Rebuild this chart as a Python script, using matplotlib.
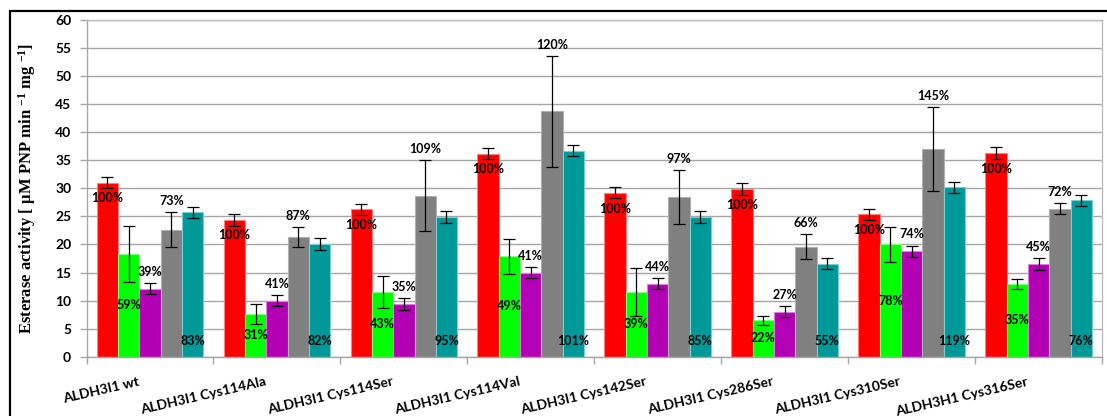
import matplotlib
matplotlib.use("Agg")
import matplotlib.pyplot as plt
import matplotlib.transforms as mtransforms
from matplotlib.patches import Rectangle
import numpy as np

# Mutant names
categories = ["ALDH3I1 wt", "ALDH3I1 Cys114Ala", "ALDH3I1 Cys114Ser", "ALDH3I1 Cys114Val",
              "ALDH3I1 Cys142Ser", "ALDH3I1 Cys286Ser", "ALDH3I1 Cys310Ser", "ALDH3H1 Cys316Ser"]

# Esterase activity for each treatment (µM PNP min-1 mg-1) and its standard deviation
red_vals = [31.0, 24.4, 26.3, 36.2, 29.2, 29.9, 25.4, 36.3]
red_err = [1.0, 1.1, 1.0, 1.0, 1.0, 1.0, 1.0, 1.0]
green_vals = [18.3, 7.6, 11.5, 17.9, 11.5, 6.5, 20.0, 13.0]
green_err = [5.0, 1.75, 2.9, 3.1, 4.3, 0.8, 3.1, 0.85]
magenta_vals = [12.1, 10.0, 9.4, 15.0, 13.0, 8.0, 18.8, 16.5]
magenta_err = [1.0, 1.0, 1.0, 1.0, 1.0, 1.0, 1.0, 1.0]
gray_vals = [22.6, 21.3, 28.7, 43.7, 28.4, 19.6, 37.0, 26.4]
gray_err = [3.1, 1.8, 6.3, 9.9, 4.8, 2.2, 7.5, 1.0]
teal_vals = [25.7, 20.1, 24.9, 36.7, 24.9, 16.6, 30.2, 27.9]
teal_err = [1.0, 1.0, 1.0, 1.0, 1.0, 1.0, 1.0, 1.0]

# Activity relative to the untreated enzyme
red_pct = ["100%"] * 8
green_pct = ["59%", "31%", "43%", "49%", "39%", "22%", "78%", "35%"]
magenta_pct = ["39%", "41%", "35%", "41%", "44%", "27%", "74%", "45%"]
gray_pct = ["73%", "87%", "109%", "120%", "97%", "66%", "145%", "72%"]
teal_pct = ["83%", "82%", "95%", "101%", "85%", "55%", "119%", "76%"]

colors = ["#FF0000", "#00FF00", "#B400B4", "#808080", "#009999"]
edges = ["#FF8080", "#80FF80", "#D880D8", "#B0B0B0", "#80CCCC"]

plt.rcParams["font.family"] = ["Lato", "DejaVu Sans"]
plt.rcParams["mathtext.fontset"] = "custom"
plt.rcParams["mathtext.rm"] = "Liberation Serif:bold"
plt.rcParams["mathtext.it"] = "Liberation Serif:bold"
plt.rcParams["mathtext.bf"] = "Liberation Serif:bold"

W, H = 1107, 416
fig = plt.figure(figsize=(W / 100, H / 100), dpi=100)
ax = fig.add_axes([86.5 / W, 1 - 356.7 / H, (1102 - 86.5) / W, (356.7 - 20) / H])

# outer chart frame
fig.patches.append(Rectangle((10 / W, -0.1), 1.2, 1 - 10.5 / H + 0.1, transform=fig.transFigure,
                             fill=False, edgecolor="black", linewidth=1.6, zorder=0))

x = np.arange(len(categories))
bw = 0.168
series = [
    (red_vals, red_err, red_pct),
    (green_vals, green_err, green_pct),
    (magenta_vals, magenta_err, magenta_pct),
    (gray_vals, gray_err, gray_pct),
    (teal_vals, teal_err, teal_pct),
]

for i, (vals, errs, pcts) in enumerate(series):
    xs = x + (i - 2) * bw
    ax.bar(xs, vals, width=bw, color=colors[i], edgecolor=edges[i], linewidth=0.8, zorder=2)
    ax.errorbar(xs, vals, yerr=errs, fmt="none", ecolor="black", elinewidth=0.9,
                capsize=4, capthick=0.9, zorder=3)
    for xi, v, e, p in zip(xs, vals, errs, pcts):
        if i == 0:
            ax.annotate(p, (xi, v), xytext=(0, -11.3), textcoords="offset points",
                        ha="center", va="center", fontsize=9, fontweight="bold", zorder=4)
        elif i == 1:
            ax.text(xi, v / 2, p, ha="center", va="center", fontsize=9, fontweight="bold", zorder=4)
        elif i in (2, 3):
            ax.annotate(p, (xi, v + e), xytext=(0, 8), textcoords="offset points",
                        ha="center", va="center", fontsize=9, fontweight="bold", zorder=4)
        else:
            ax.annotate(p, (xi, 0), xytext=(0, 11.3), textcoords="offset points",
                        ha="center", va="center", fontsize=9, fontweight="bold", zorder=4)

ax.set_xlim(-0.5, len(categories) - 0.5)
ax.set_ylim(0, 60)
ax.set_yticks(np.arange(0, 61, 5))
ax.yaxis.grid(True, color="#A6A6A6", linewidth=1.0, zorder=0)
ax.set_axisbelow(True)
for s in ax.spines.values():
    s.set_color("#BDBDBD")
    s.set_linewidth(1.0)
ax.spines["left"].set_color("#A6A6A6")
ax.spines["bottom"].set_color("#A6A6A6")
ax.tick_params(axis="y", length=5, width=1.0, color="#A6A6A6", labelsize=10, pad=6)
for lab in ax.get_yticklabels():
    lab.set_fontweight("bold")

# group boundary ticks on x axis
ax.set_xticks(np.arange(-0.5, len(categories) + 0.5, 1.0))
ax.set_xticklabels([])
ax.tick_params(axis="x", length=5, width=1.0, color="#A6A6A6")

# rotated category labels
for xi, name in zip(x, categories):
    off = mtransforms.ScaledTranslation(-12.5 / 100, -19 / 100, fig.dpi_scale_trans)
    ax.text(xi, 0, name, transform=ax.transData + off, rotation=13, rotation_mode="anchor",
            ha="right", va="top", fontsize=10, fontweight="bold")

fig.text(27 / W, 1 - 188 / H, r"Esterase activity [ µM PNP min $^{-1}$ mg $^{-1}$]",
         rotation=90, ha="center", va="center", fontsize=12,
         family="Liberation Serif", fontweight="bold")

fig.savefig("out.png", dpi=100)
